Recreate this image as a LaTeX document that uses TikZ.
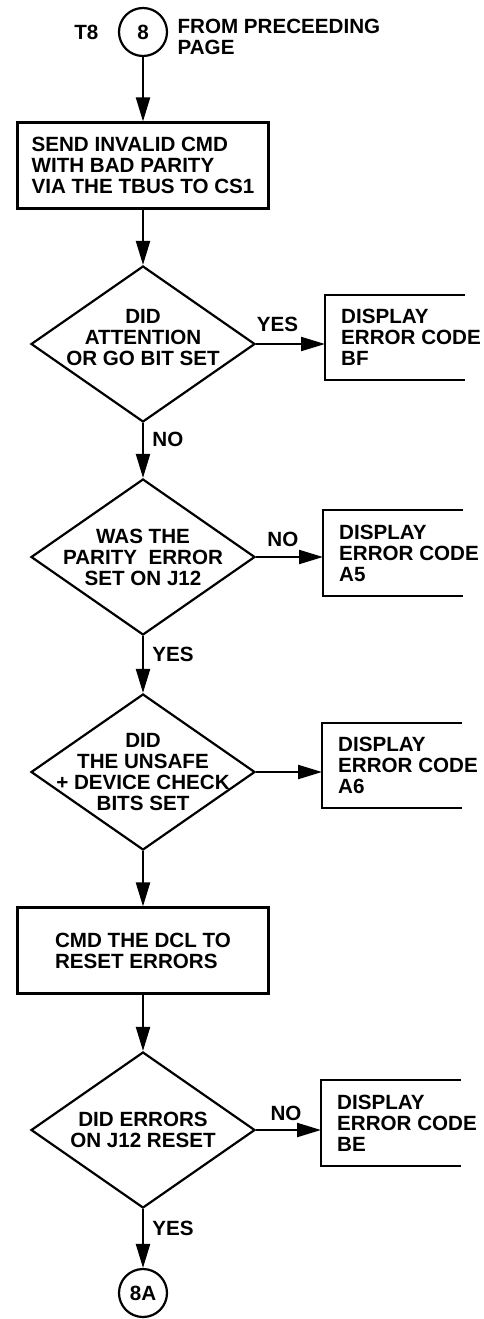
\documentclass[tikz,border=0pt]{standalone}
\usepackage{fontspec}
\setmainfont{Liberation Sans}
\usetikzlibrary{shapes.geometric,arrows.meta,positioning}

\tikzset{
  flow/.style={line width=2.2pt, -{Triangle[length=24pt,width=14pt]}},
  procbox/.style={draw, line width=2.2pt, minimum width=251pt, minimum height=86pt, align=left},
  decide/.style={draw, diamond, line width=2.2pt, minimum width=224pt, minimum height=156pt, inner sep=0pt},
  conn/.style={draw, circle, line width=2.2pt, minimum size=48pt, inner sep=0pt},
  dispbox/.style={anchor=west, inner xsep=16pt, minimum height=85pt, align=left},
}

\begin{document}
\begin{tikzpicture}[x=1pt, y=-1pt, font=\fontsize{20.6}{21}\selectfont\bfseries]
  \useasboundingbox (0,0) rectangle (484,1319);
  % colonne principale
  \node[conn] (c8) at (143,32) {8};
  \node[left=16pt of c8] (t8) {T8};
  \node[anchor=west, align=left] (from) at ([xshift=6pt,yshift=-5pt]c8.east) {FROM PRECEEDING\\PAGE};
  \node[procbox] (b1) at (143,165.5) {SEND INVALID CMD\\WITH BAD PARITY\\VIA THE TBUS TO CS1};
  \node[decide] (d1) at (143,344) {};
  \node[align=center] (d1t) at ([yshift=6pt]d1.center) {DID\\ATTENTION\\OR GO BIT SET};
  \node[decide] (d2) at (143,557) {};
  \node[align=center] (d2t) at (d2.center) {WAS THE\\PARITY\ \ ERROR\\SET ON J12};
  \node[decide] (d3) at (143,772) {};
  \node[align=center] (d3t) at (d3.center) {DID\\THE UNSAFE\\+ DEVICE CHECK\\BITS SET};
  \node[procbox] (b2) at (143,950.5) {CMD THE DCL TO\\RESET ERRORS};
  \node[decide] (d4) at (143,1130) {};
  \node[align=center] (d4t) at (d4.center) {DID ERRORS\\ON J12 RESET};
  \node[conn] (c8a) at (143,1293) {8A};
  % cadres d'erreur, ouverts a droite
  \node[dispbox] (e1) at (325,337.5) {DISPLAY\\ERROR CODE\\BF};
  \node[dispbox] (e2) at (323,553) {DISPLAY\\ERROR CODE\\A5};
  \node[dispbox] (e3) at (322,765.5) {DISPLAY\\ERROR CODE\\A6};
  \node[dispbox] (e4) at (321,1123) {DISPLAY\\ERROR CODE\\BE};
  \foreach \n in {e1,e2,e3,e4} {
    \draw[line width=2.2pt] ([xshift=140pt]\n.north west) -- (\n.north west) -- (\n.south west) -- ++(140,0);
  }
  % fleches
  \draw[flow] (c8) -- (b1);
  \draw[flow] (b1) -- (d1);
  \draw[flow] (d1) -- node[right=5pt, pos=.3] {NO} (d2);
  \draw[flow] (d2) -- node[right=5pt, pos=.32] {YES} (d3);
  \draw[flow] (d3) -- (b2);
  \draw[flow] (b2) -- (d4);
  \draw[flow] (d4) -- node[right=5pt, pos=.32] {YES} (c8a);
  \draw[flow] (d1.east) -- node[above=8pt, pos=.31] {YES} (d1.east -| e1.west);
  \draw[flow] (d2.east) -- node[above=6pt, pos=.4] {NO} (d2.east -| e2.west);
  \draw[flow] (d3.east) -- (d3.east -| e3.west);
  \draw[flow] (d4.east) -- node[above=5pt, pos=.46] {NO} (d4.east -| e4.west);
\end{tikzpicture}
\end{document}
